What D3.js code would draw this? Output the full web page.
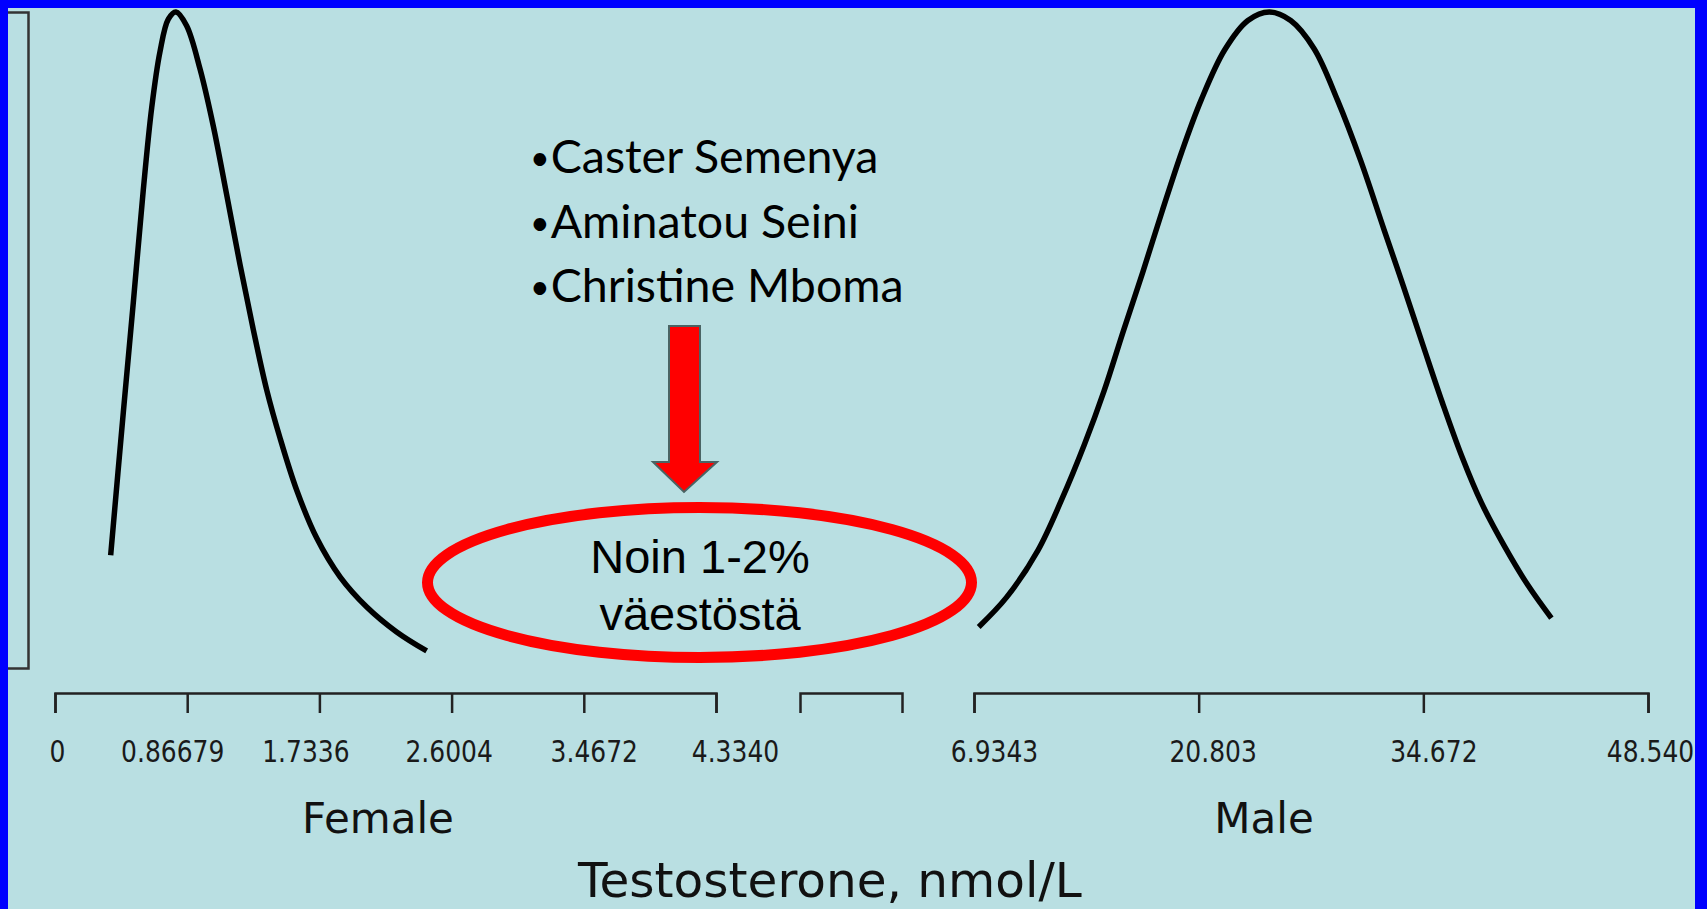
<!DOCTYPE html>
<html>
<head>
<meta charset="utf-8">
<script src="https://cdn.jsdelivr.net/npm/d3@7"></script>
<style>
  body { margin: 0; background: #0000ff; }
  svg { display: block; }
</style>
</head>
<body>
<div id="graph"></div>
<script>
// data
var femaleTicks = [0, 0.86679, 1.7336, 2.6004, 3.4672, 4.3340];
var femaleTickLabels = ["0", "0.86679", "1.7336", "2.6004", "3.4672", "4.3340"];
var maleTicks = [6.9343, 20.803, 34.672, 48.540];
var maleTickLabels = ["6.9343", "20.803", "34.672", "48.540"];

// relative density curves (testosterone nmol/L, relative height)
var femaleT = [0.365, 0.448, 0.513, 0.579, 0.634, 0.688, 0.743, 0.793, 0.863, 0.951, 1.038, 1.126, 1.213, 1.300, 1.388, 1.475, 1.585, 1.716, 1.869, 2.044, 2.240, 2.437];
var femaleD = [0.172, 0.390, 0.556, 0.729, 0.854, 0.939, 0.989, 1.0, 0.979, 0.913, 0.826, 0.721, 0.615, 0.516, 0.424, 0.351, 0.271, 0.198, 0.139, 0.093, 0.055, 0.026];
var maleT = [7.224, 8.953, 10.873, 12.317, 13.755, 14.959, 16.157, 17.360, 18.558, 19.762, 20.959, 22.404, 23.842, 25.163, 26.484, 27.929, 29.367, 30.811, 32.249, 33.453, 34.651, 35.854, 37.058, 38.255, 39.694, 41.132, 42.576];
var maleD = [0.0625, 0.108, 0.179, 0.255, 0.341, 0.422, 0.514, 0.604, 0.697, 0.787, 0.866, 0.942, 0.987, 1.0, 0.987, 0.944, 0.866, 0.773, 0.668, 0.581, 0.492, 0.404, 0.322, 0.252, 0.185, 0.126, 0.076];

var athletes = ["Caster Semenya", "Aminatou Seini", "Christine Mboma"];
var calloutLines = ["Noin 1-2%", "väestöstä"];
var groupLabels = ["Female", "Male"];
var axisTitle = "Testosterone, nmol/L";

// layout
var W = 1707, H = 909;
var axisY = 693;
// the tick labels in the original sit a little off their ticks
var femaleLabelNudge = [2, -15, -14, -3, 10, 19];
var maleLabelNudge = [20, 14, 10, 2];

var svg = d3.select("#graph")
  .append("svg")
    .attr("width", W)
    .attr("height", H);

// light blue panel inside the blue frame
svg.append("rect")
  .attr("x", 8).attr("y", 8)
  .attr("width", 1695 - 8).attr("height", H - 8)
  .attr("fill", "#b9dfe2");

// scales
var xF = d3.scaleLinear().domain([0, 4.3340]).range([55, 716]);
var xGap = d3.scaleLinear().domain([0, 1]).range([800, 902]);
var xM = d3.scaleLinear().domain([6.9343, 48.540]).range([974, 1648]);
var y = d3.scaleLinear().domain([0, 1]).range([668, 12]);

// left bracket (density axis without ticks)
svg.append("g")
  .attr("transform", "translate(28,0)")
  .call(d3.axisLeft(y).tickValues([]).tickSizeOuter(20))
  .call(function(g) { g.select(".domain").attr("stroke", "#333").attr("stroke-width", 2.5); });

function styleAxis(nudge) {
  return function(g) {
    g.select(".domain").attr("stroke", "#222").attr("stroke-width", 2.5);
    g.selectAll(".tick line").attr("stroke", "#222").attr("stroke-width", 2.5);
    g.selectAll(".tick text")
      .attr("fill", "#1a1a1a")
      .attr("font-family", "'DejaVu Sans', Verdana, sans-serif")
      .attr("font-size", 25)
      .attr("dy", 0)
      .attr("x", function(d, i) { return nudge ? nudge[i] : 0; })
      .attr("y", 69 / 1.22)
      .attr("transform", "scale(1,1.22)");
  };
}

svg.append("g")
  .attr("transform", "translate(0," + axisY + ")")
  .call(d3.axisBottom(xF).tickValues(femaleTicks).tickSize(20).tickSizeOuter(20)
    .tickFormat(function(d, i) { return femaleTickLabels[i]; }))
  .call(styleAxis(femaleLabelNudge));

svg.append("g")
  .attr("transform", "translate(0," + axisY + ")")
  .call(d3.axisBottom(xGap).tickValues([]).tickSizeOuter(20))
  .call(styleAxis(null));

svg.append("g")
  .attr("transform", "translate(0," + axisY + ")")
  .call(d3.axisBottom(xM).tickValues(maleTicks).tickSize(20).tickSizeOuter(20)
    .tickFormat(function(d, i) { return maleTickLabels[i]; }))
  .call(styleAxis(maleLabelNudge));

// curves
var femaleLine = d3.line()
  .x(function(d, i) { return xF(femaleT[i]); })
  .y(function(d) { return y(d); })
  .curve(d3.curveCatmullRom.alpha(0.5));
var maleLine = d3.line()
  .x(function(d, i) { return xM(maleT[i]); })
  .y(function(d) { return y(d); })
  .curve(d3.curveCatmullRom.alpha(0.5));

svg.append("path")
  .attr("d", femaleLine(femaleD))
  .style("fill", "none")
  .style("stroke", "#000")
  .style("stroke-width", 5.5)
  .style("stroke-linejoin", "round");
svg.append("path")
  .attr("d", maleLine(maleD))
  .style("fill", "none")
  .style("stroke", "#000")
  .style("stroke-width", 5.5)
  .style("stroke-linejoin", "round");

// group labels and axis title
svg.selectAll("text.group")
  .data(groupLabels)
  .enter()
  .append("text")
    .attr("class", "group")
    .attr("x", function(d, i) { return i === 0 ? 378 : 1264; })
    .attr("y", 833)
    .attr("text-anchor", "middle")
    .attr("font-family", "'DejaVu Sans', Verdana, sans-serif")
    .attr("font-size", 42)
    .attr("fill", "#111")
    .text(function(d) { return d; });

svg.append("text")
  .attr("x", 830)
  .attr("y", 897)
  .attr("text-anchor", "middle")
  .attr("font-family", "'DejaVu Sans', Verdana, sans-serif")
  .attr("font-size", 48.5)
  .attr("fill", "#111")
  .text(axisTitle);

// athlete list
var list = svg.selectAll("text.athlete")
  .data(athletes)
  .enter()
  .append("text")
    .attr("class", "athlete")
    .attr("x", 530)
    .attr("y", function(d, i) { return 173 + i * 64.5; })
    .attr("font-family", "Lato, 'Open Sans', sans-serif")
    .attr("font-size", 46.5)
    .attr("fill", "#000");
list.append("tspan")
  .attr("font-size", 34)
  .attr("dy", -3)
  .text("•");
list.append("tspan")
  .attr("dy", 3)
  .attr("dx", 1)
  .text(function(d) { return d; });

// red arrow
var arrow = [[669, 326], [700, 326], [700, 462], [717, 462], [684, 492], [653, 462], [669, 462]];
svg.append("path")
  .attr("d", d3.line()(arrow) + "Z")
  .attr("fill", "#ff0000")
  .attr("stroke", "#4a6464")
  .attr("stroke-width", 2);

// red ellipse with text
svg.append("ellipse")
  .attr("cx", 699.5).attr("cy", 582.5)
  .attr("rx", 272).attr("ry", 75)
  .attr("fill", "none")
  .attr("stroke", "#ff0000")
  .attr("stroke-width", 11);

svg.selectAll("text.callout")
  .data(calloutLines)
  .enter()
  .append("text")
    .attr("class", "callout")
    .attr("x", 700)
    .attr("y", function(d, i) { return 573 + i * 57; })
    .attr("text-anchor", "middle")
    .attr("font-family", "'Liberation Sans', Arial, sans-serif")
    .attr("font-size", 47)
    .attr("fill", "#000")
    .text(function(d) { return d; });
</script>
</body>
</html>
